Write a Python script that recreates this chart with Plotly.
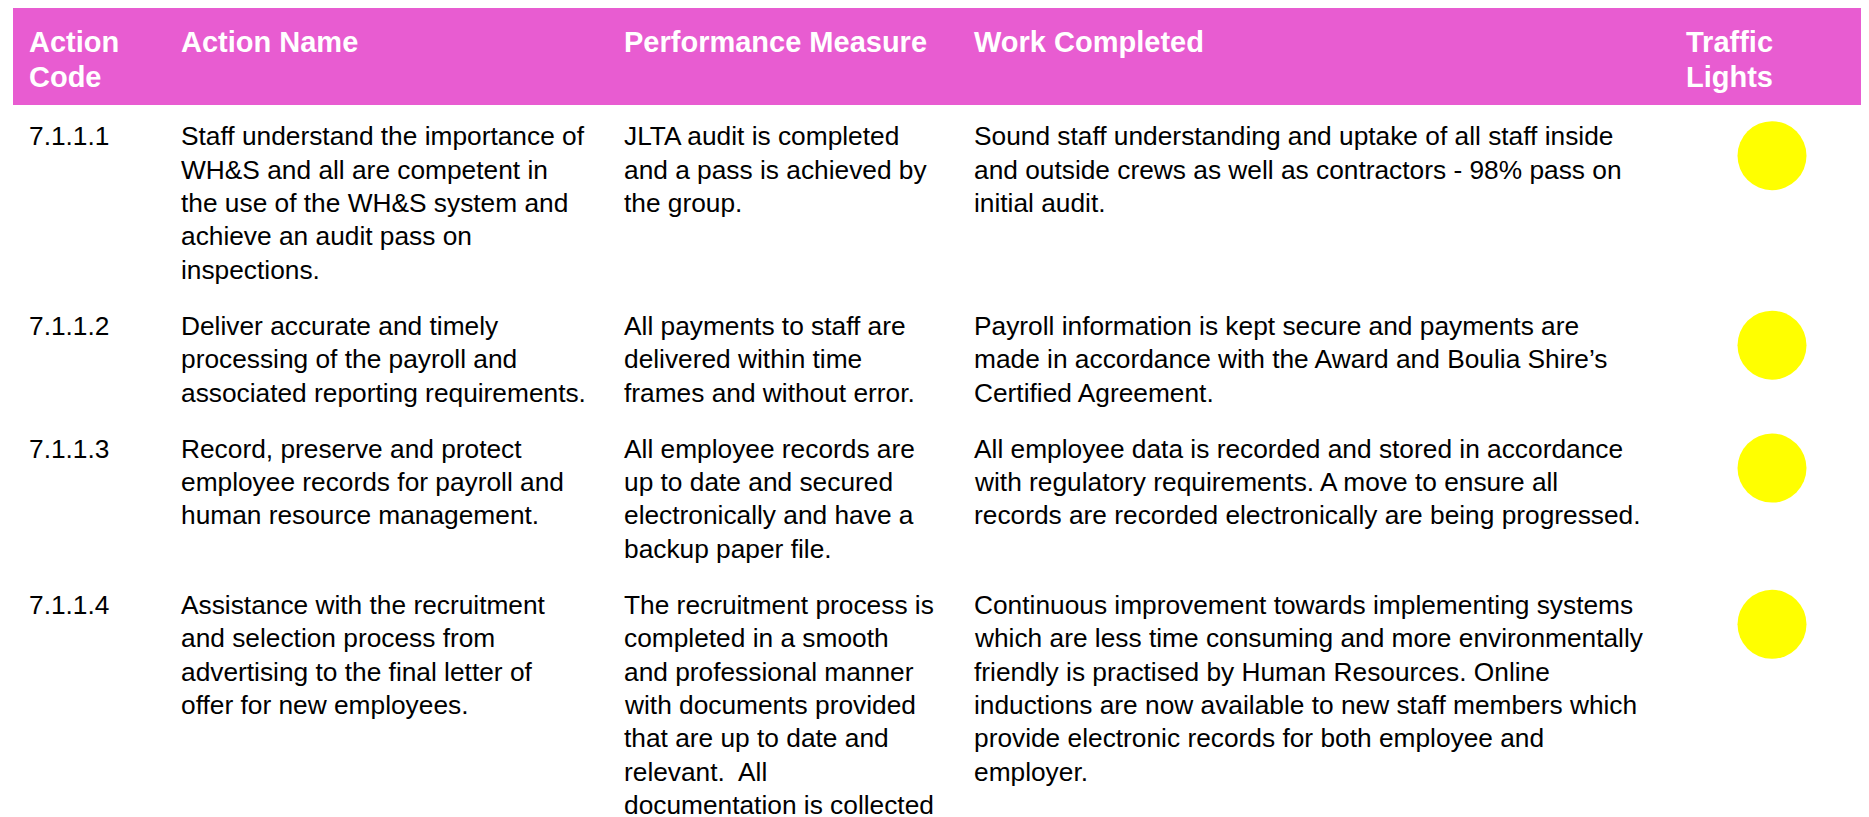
import plotly.graph_objects as go

# ---------------- data ----------------
headers = [["Action", "Code"], ["Action Name"], ["Performance Measure"],
           ["Work Completed"], ["Traffic", "Lights"]]

action_codes = ["7.1.1.1", "7.1.1.2", "7.1.1.3", "7.1.1.4"]

action_names = [
    ["Staff understand the importance of", "WH&S and all are competent in",
     "the use of the WH&S system and", "achieve an audit pass on", "inspections."],
    ["Deliver accurate and timely", "processing of the payroll and",
     "associated reporting requirements."],
    ["Record, preserve and protect", "employee records for payroll and",
     "human resource management."],
    ["Assistance with the recruitment", "and selection process from",
     "advertising to the final letter of", "offer for new employees."],
]

performance_measures = [
    ["JLTA audit is completed", "and a pass is achieved by", "the group."],
    ["All payments to staff are", "delivered within time", "frames and without error."],
    ["All employee records are", "up to date and secured",
     "electronically and have a", "backup paper file."],
    ["The recruitment process is", "completed in a smooth", "and professional manner",
     "with documents provided", "that are up to date and", "relevant.  All",
     "documentation is collected"],
]

work_completed = [
    ["Sound staff understanding and uptake of all staff inside",
     "and outside crews as well as contractors - 98% pass on", "initial audit."],
    ["Payroll information is kept secure and payments are",
     "made in accordance with the Award and Boulia Shire\u2019s", "Certified Agreement."],
    ["All employee data is recorded and stored in accordance",
     "with regulatory requirements. A move to ensure all",
     "records are recorded electronically are being progressed."],
    ["Continuous improvement towards implementing systems",
     "which are less time consuming and more environmentally",
     "friendly is practised by Human Resources. Online",
     "inductions are now available to new staff members which",
     "provide electronic records for both employee and", "employer."],
]

traffic_lights = ["Yellow", "Yellow", "Yellow", "Yellow"]

# ---------------- layout constants ----------------
W, H = 1869, 817
PAGE_MARGIN = 8  # default body margin of the html page
FONT = "Liberation Sans, Arial, Helvetica, sans-serif"
HEADER_BG = "#E85CD1"
LIGHT_COLORS = {"Yellow": "#FFFF00", "Green": "#00B050", "Red": "#FF0000"}

col_x = [28, 180, 623, 973, 1685]
light_x = 1772
header_top, header_bottom, header_left = 8, 105, 13
header_baseline0, header_line_step, header_size = 52.3, 35.3, 29
body_size = 26.3
first_baseline = 145.7
line_step = 33.3
row_gap = 23

# baselines of first line in every row, derived from line counts
row_baselines = []
b = first_baseline
for i in range(len(action_codes)):
    row_baselines.append(b)
    n = max(1, len(action_names[i]), len(performance_measures[i]), len(work_completed[i]))
    b += n * line_step + row_gap

fig = go.Figure()

# header band
fig.add_shape(type="rect", xref="x", yref="y", x0=header_left, x1=W + 50,
              y0=header_top, y1=header_bottom, fillcolor=HEADER_BG,
              line=dict(width=0), layer="below")

annotations = []


def add_line(x, baseline, text, size, color, bold=False):
    annotations.append(dict(
        x=x, y=baseline - 0.35 * size, xref="x", yref="y",
        text=f"<b>{text}</b>" if bold else text,
        showarrow=False, xanchor="left", yanchor="middle",
        font=dict(family=FONT, size=size, color=color),
        borderpad=0,
    ))


for cx, lines in zip(col_x, headers):
    for k, t in enumerate(lines):
        add_line(cx, header_baseline0 + k * header_line_step, t, header_size, "white", bold=True)

for i, code in enumerate(action_codes):
    base = row_baselines[i]
    cells = [[code], action_names[i], performance_measures[i], work_completed[i]]
    for cx, lines in zip(col_x[:4], cells):
        for k, t in enumerate(lines):
            add_line(cx, base + k * line_step, t, body_size, "black")

# traffic light circles
fig.add_trace(go.Scatter(
    x=[light_x] * len(traffic_lights),
    y=[bl + 10 for bl in row_baselines],
    mode="markers",
    marker=dict(size=69, color=[LIGHT_COLORS[s] for s in traffic_lights],
                line=dict(width=0)),
    hoverinfo="skip", showlegend=False, cliponaxis=False,
))

fig.update_layout(
    width=W - PAGE_MARGIN, height=H - PAGE_MARGIN,
    margin=dict(l=0, r=0, t=0, b=0),
    paper_bgcolor="white", plot_bgcolor="white",
    xaxis=dict(range=[PAGE_MARGIN, W], visible=False, fixedrange=True),
    yaxis=dict(range=[H, PAGE_MARGIN], visible=False, fixedrange=True),
    annotations=annotations,
    showlegend=False,
)

fig.write_html("out.html", config={"displayModeBar": False})
